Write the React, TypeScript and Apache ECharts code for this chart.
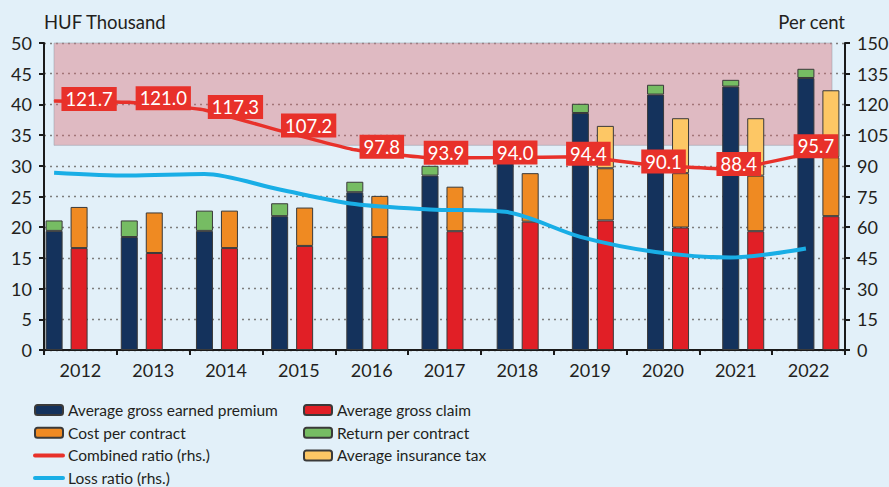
import React, { useEffect, useRef } from 'react';
import * as echarts from 'echarts';

// ---------- data ----------
const years = ['2012', '2013', '2014', '2015', '2016', '2017', '2018', '2019', '2020', '2021', '2022'];
// HUF thousand
const premium = [19.4, 18.4, 19.4, 21.8, 25.7, 28.4, 31.0, 38.6, 41.6, 42.9, 44.3];
const returnPerContract = [1.7, 2.7, 3.3, 2.1, 1.7, 1.6, 1.6, 1.5, 1.6, 1.1, 1.5];
const claim = [16.6, 15.8, 16.6, 16.95, 18.4, 19.35, 20.9, 21.1, 19.95, 19.35, 21.8];
const costPerContract = [6.7, 6.6, 6.1, 6.25, 6.7, 7.25, 7.9, 8.5, 8.85, 9.05, 9.6];
const insuranceTax = [null, null, null, null, null, null, null, 6.9, 8.95, 9.35, 10.9];
// per cent (rhs)
const combinedRatio = [121.7, 121.0, 117.3, 107.2, 97.8, 93.9, 94.0, 94.4, 90.1, 88.4, 95.7];
const lossRatio = [86.6, 85.2, 86.0, 78.4, 71.3, 68.7, 67.5, 55.3, 47.9, 45.2, 49.6];
// shaded band on rhs (per cent)
const bandRange = [100, 150];

// ---------- styles ----------
const FONT = 'Lato';
const TXT = '#231f20';
const labelNudge: number[][] = [
  [35, -2], [34, -4], [31, -3], [29, -5], [27, -3], [16, -5], [10, -5], [8, -3], [8, -4], [8, -5], [10, -8],
];

const C = {
  premium: '#14325c',
  claim: '#e11f26',
  cost: '#ef8a22',
  ret: '#76bc63',
  tax: '#fdc765',
  combined: '#e8312a',
  loss: '#19aee6',
};

const barBase = {
  type: 'bar' as const,
  xAxisIndex: 1,
  yAxisIndex: 2,
  barWidth: 17,
  barGap: '47%',
  z: 2,
};

const legendBase = {
  orient: 'vertical',
  top: 402,
  padding: 0,
  itemGap: 6.7,
  itemWidth: 28,
  itemHeight: 10,
  itemTextGap: 6,
  selectedMode: false,
  textStyle: { color: TXT, fontSize: 15.5, fontFamily: FONT, lineHeight: 16 },
};

function buildOption() {
  const gridPos = { top: 43, bottom: 137 };
  return {
    animation: false,
    backgroundColor: '#e2f0f9',
    textStyle: { fontFamily: FONT },
    grid: [
      { left: 44, right: 44, ...gridPos, outerBoundsMode: 'none' },
      { left: 29, right: 33, ...gridPos, outerBoundsMode: 'none' },
      { left: 16.5, right: 45.5, ...gridPos, outerBoundsMode: 'none' },
    ],
    xAxis: [
      {
        type: 'category',
        gridIndex: 0,
        data: years,
        boundaryGap: true,
        axisLine: { lineStyle: { color: '#1a1a1a', width: 2 } },
        axisTick: { show: true, length: 5, lineStyle: { color: '#1a1a1a', width: 2 } },
        axisLabel: { color: TXT, fontSize: 18, fontFamily: FONT, margin: 11 },
        splitLine: { show: false },
      },
      { type: 'category', gridIndex: 1, data: years, show: false },
      { type: 'category', gridIndex: 2, data: years, show: false },
    ],
    yAxis: [
      {
        type: 'value',
        gridIndex: 0,
        min: 0,
        max: 50,
        interval: 5,
        name: 'HUF Thousand',
        nameLocation: 'end',
        nameGap: 12,
        nameTextStyle: { color: TXT, fontSize: 18.5, fontFamily: FONT, align: 'left', verticalAlign: 'bottom' },
        axisLine: { show: true, lineStyle: { color: '#1a1a1a', width: 2 } },
        axisTick: { show: true, length: 5, lineStyle: { color: '#1a1a1a', width: 2 } },
        axisLabel: { color: TXT, fontSize: 18, fontFamily: FONT, margin: 12 },
        splitLine: { show: true, lineStyle: { color: '#7d7d7d', width: 1.3, type: [2, 4] } },
      },
      {
        type: 'value',
        gridIndex: 0,
        position: 'right',
        min: 0,
        max: 150,
        interval: 15,
        name: 'Per cent',
        nameLocation: 'end',
        nameGap: 12,
        nameTextStyle: { color: TXT, fontSize: 18.5, fontFamily: FONT, align: 'right', verticalAlign: 'bottom' },
        axisLine: { show: true, lineStyle: { color: '#1a1a1a', width: 2 } },
        axisTick: { show: true, length: 5, lineStyle: { color: '#1a1a1a', width: 2 } },
        axisLabel: { color: TXT, fontSize: 18, fontFamily: FONT, margin: 12 },
        splitLine: { show: false },
      },
      { type: 'value', gridIndex: 1, min: 0, max: 50, show: false },
      { type: 'value', gridIndex: 2, min: 0, max: 150, show: false },
    ],
    legend: [
      {
        ...legendBase,
        left: 33,
        data: [
          'Average gross earned premium',
          'Cost per contract',
          { name: 'Combined ratio (rhs.)', itemStyle: { opacity: 0 }, lineStyle: { width: 4, cap: 'round' } },
          { name: 'Loss ratio (rhs.)', itemStyle: { opacity: 0 }, lineStyle: { width: 4, cap: 'round' } },
        ],
      },
      {
        ...legendBase,
        left: 303,
        data: ['Average gross claim', 'Return per contract', 'Average insurance tax'],
      },
    ],
    series: [
      {
        ...barBase,
        name: 'Average gross earned premium',
        stack: 'income',
        data: premium,
        itemStyle: { color: C.premium, borderColor: '#3a3a3a', borderWidth: 1 },
      },
      {
        ...barBase,
        name: 'Return per contract',
        stack: 'income',
        data: returnPerContract,
        itemStyle: { color: C.ret, borderColor: '#3a3a3a', borderWidth: 1 },
      },
      {
        ...barBase,
        name: 'Average gross claim',
        stack: 'expense',
        data: claim,
        itemStyle: { color: C.claim, borderColor: '#3a3a3a', borderWidth: 1 },
      },
      {
        ...barBase,
        name: 'Cost per contract',
        stack: 'expense',
        data: costPerContract,
        itemStyle: { color: C.cost, borderColor: '#3a3a3a', borderWidth: 1 },
      },
      {
        ...barBase,
        name: 'Average insurance tax',
        stack: 'expense',
        data: insuranceTax,
        itemStyle: { color: C.tax, borderColor: '#3a3a3a', borderWidth: 1 },
      },
      {
        type: 'line',
        name: 'Loss ratio (rhs.)',
        xAxisIndex: 2,
        yAxisIndex: 3,
        z: 4,
        smooth: 0.3,
        symbol: 'none',
        data: lossRatio,
        lineStyle: { color: C.loss, width: 4 },
        itemStyle: { color: C.loss },
        markArea: {
          silent: true,
          z: 1,
          itemStyle: { color: 'rgba(221,105,113,0.4)', borderColor: 'rgba(150,155,170,0.5)', borderWidth: 1 },
          data: [[{ x: 54, yAxis: bandRange[0] }, { x: 832, yAxis: bandRange[1] }]],
        },
      },
      {
        type: 'line',
        name: 'Combined ratio (rhs.)',
        xAxisIndex: 2,
        yAxisIndex: 3,
        z: 5,
        smooth: 0.1,
        symbol: 'circle',
        symbolSize: 1,
        showSymbol: true,
        data: combinedRatio.map((v, i) => ({
          value: v,
          label: { offset: labelNudge[i] },
        })),
        lineStyle: { color: C.combined, width: 3.5 },
        itemStyle: { color: C.combined },
        label: {
          show: true,
          position: 'inside',
          formatter: (p: any) => Number(p.value).toFixed(1),
          color: '#ffffff',
          fontSize: 18.5,
          fontFamily: FONT,
          backgroundColor: C.combined,
          padding: [3, 4, 2, 4],
        },
      },
    ],
  };
}

export default function App() {
  const ref = useRef<HTMLDivElement>(null);
  useEffect(() => {
    if (!ref.current) return;
    const chart = echarts.init(ref.current, undefined, { renderer: 'svg' });
    chart.setOption(buildOption() as any);
    return () => chart.dispose();
  }, []);
  return (
    <div
      ref={ref}
      style={{ position: 'absolute', left: 0, top: 0, width: 889, height: 487 }}
    />
  );
}
